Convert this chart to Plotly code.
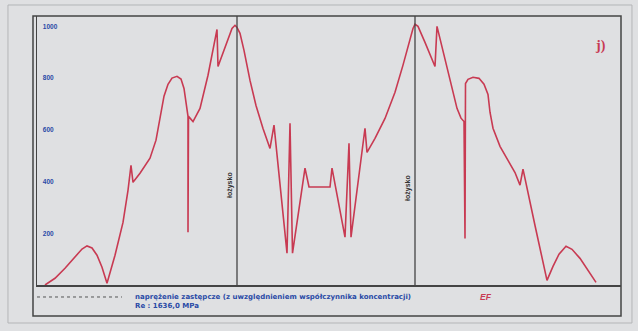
import plotly.graph_objects as go

# Position along the shaft (arbitrary length units) and equivalent stress [MPa]
position = [
    8, 18, 28, 38, 45, 50, 55, 60, 65, 70,
    78, 86, 91, 94, 96, 103, 113, 119, 123, 127, 131, 135, 140, 144, 147, 149, 150, 151,
    151, 151.5, 156, 163, 171, 180, 181, 185, 191, 195, 198, 200,
    203, 207, 213, 219, 226, 233, 237, 250, 253, 255.5, 268, 272, 293, 295,
    308, 312, 314, 328, 330, 338, 348, 358, 366, 372, 376, 378,
    381, 388, 398, 400, 408, 415, 420, 424, 427, 428, 428.5, 431, 436, 442, 447, 451, 453,
    456, 463, 471, 478, 483, 486, 498, 510, 516, 522, 529, 535, 543, 551, 559,
]
stress = [
    0, 26, 65, 107, 139, 151, 143, 115, 69, 7,
    115, 242, 366, 463, 397, 432, 490, 560, 645, 730, 776, 800, 807, 796, 760, 714, 676, 652,
    204, 652, 632, 683, 811, 988, 845, 888, 954, 992, 1004, 996,
    973, 907, 791, 694, 605, 528, 618, 123, 625, 123, 452, 379, 379, 452,
    185, 548, 185, 606, 513, 567, 644, 745, 850, 938, 992, 1008,
    1000, 938, 845, 1000, 876, 760, 683, 645, 632, 180, 779, 795, 803, 799, 776, 737, 668,
    606, 536, 482, 435, 386, 448, 230, 18, 72, 119, 150, 138, 103, 57, 10,
]

bearing_x = [200, 378]
bearing_label = "łożysko"
y_ticks = [200, 400, 600, 800, 1000]
legend_line1 = "naprężenie zastępcze (z uwzględnieniem współczynnika koncentracji)"
legend_line2 = "Re : 1636,0 MPa"
series_tag = "EF"
panel_tag = "j)"

BG = "#dfe0e2"
RED = "#c83a52"
BLUE = "#2a4aa6"
DARK = "#444444"

fig = go.Figure()
fig.add_trace(go.Scatter(
    x=position, y=stress, mode="lines",
    line=dict(color=RED, width=1.6),
    hoverinfo="skip", showlegend=False,
))

shapes = []
# bearing dividers
for bx in bearing_x:
    shapes.append(dict(type="line", xref="x", yref="paper", x0=bx, x1=bx, y0=0, y1=1,
                       line=dict(color=DARK, width=1.3)))
# frame around plot and legend strip
shapes.append(dict(type="rect", xref="paper", yref="paper",
                   x0=-0.00685, x1=1.0, y0=-0.1152, y1=1.0,
                   line=dict(color=DARK, width=1.5)))
# outer sheet border
shapes.append(dict(type="rect", xref="paper", yref="paper",
                   x0=-0.0497, x1=1.0188, y0=-0.1413, y1=1.0409,
                   line=dict(color="#b4b5b7", width=1)))
# legend sample line
shapes.append(dict(type="line", xref="paper", yref="paper",
                   x0=0.0, x1=0.1455, y0=-0.0446, y1=-0.0446,
                   line=dict(color="#555555", width=1, dash="dot")))

annotations = []
for bx, py in zip(bearing_x, [0.316, 0.305]):
    annotations.append(dict(x=bx - 7, y=py, xref="x", yref="paper", text=bearing_label,
                            textangle=-90, showarrow=False,
                            font=dict(family="Liberation Sans", size=7, color="#333333", weight="bold")))
annotations.append(dict(x=0.978, y=0.925, xref="paper", yref="paper", text=panel_tag,
                        showarrow=False,
                        font=dict(family="Liberation Serif", size=14, color=RED, weight="bold")))
annotations.append(dict(x=0.1644, y=-0.0446, xref="paper", yref="paper", text=legend_line1,
                        xanchor="left", yanchor="middle", showarrow=False,
                        font=dict(family="DejaVu Sans", size=7, color=BLUE, weight="bold")))
annotations.append(dict(x=0.1644, y=-0.079, xref="paper", yref="paper", text=legend_line2,
                        xanchor="left", yanchor="middle", showarrow=False,
                        font=dict(family="DejaVu Sans", size=7, color=BLUE, weight="bold")))
annotations.append(dict(x=0.769, y=-0.045, xref="paper", yref="paper", text=f"<i>{series_tag}</i>",
                        xanchor="center", yanchor="middle", showarrow=False,
                        font=dict(family="Liberation Sans", size=8.5, color=RED, weight="bold")))

fig.update_layout(
    width=638, height=331,
    margin=dict(l=37, r=17, t=16, b=46),
    paper_bgcolor=BG, plot_bgcolor=BG,
    shapes=shapes, annotations=annotations,
    xaxis=dict(range=[0, 584], showgrid=False, zeroline=False, showticklabels=False,
               showline=True, linecolor=DARK, linewidth=1.5, ticks=""),
    yaxis=dict(range=[0, 1040], showgrid=False, zeroline=False,
               tickvals=y_ticks, ticktext=[str(v) for v in y_ticks],
               ticklabelposition="inside", ticks="", ticklabelstandoff=4,
               tickfont=dict(family="Liberation Sans", size=6.5, color=BLUE, weight="bold"),
               showline=True, linecolor=DARK, linewidth=1.3),
)

fig.write_html("out.html")
